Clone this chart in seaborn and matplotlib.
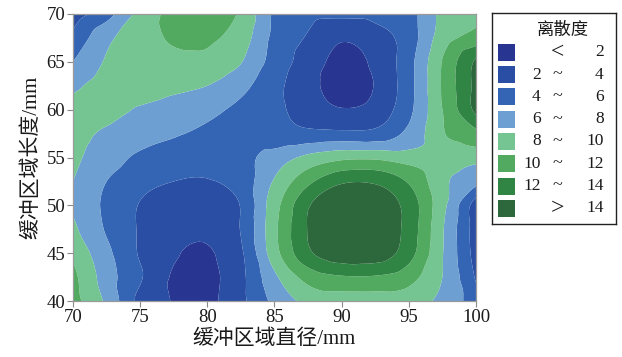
import numpy as np
import matplotlib
matplotlib.use("Agg")
import matplotlib.pyplot as plt
import matplotlib.tri as mtri
from matplotlib.patches import Rectangle
import seaborn as sns

# ---- data ----
x_diameter = [70, 72.5, 75, 77.5, 80, 82.5, 85, 87.5, 90, 92.5, 95, 97.5, 100]
y_length = [40, 42.5, 45, 47.5, 50, 52.5, 55, 57.5, 60, 62.5, 65, 67.5, 70]

row_y40 = [10.8, 7.6, 3.5, 1.9, 1.6, 3.5, 6.5, 8.6, 8.8, 8.8, 8.8, 7.5, 4.8]
row_y42_5 = [10.5, 7.0, 4.2, 1.8, 1.5, 3.5, 7.6, 10.8, 11.8, 11.8, 10.8, 8.0, 3.8]
row_y45 = [9.6, 6.5, 3.8, 2.2, 1.8, 3.7, 9.2, 13.6, 15.3, 15.2, 12.8, 8.1, 3.2]
row_y47_5 = [8.4, 5.8, 3.8, 2.6, 2.4, 4.1, 9.5, 14.1, 16.0, 15.8, 13.2, 8.2, 3.0]
row_y50 = [7.8, 5.6, 3.9, 3.0, 2.8, 4.1, 9.2, 13.8, 15.5, 15.5, 13.2, 8.6, 3.0]
row_y52_5 = [8.0, 6.0, 4.6, 4.0, 3.9, 4.8, 8.2, 11.5, 13.7, 13.7, 11.8, 8.5, 6.5]
row_y55 = [8.4, 7.0, 5.6, 5.0, 4.6, 5.2, 7.0, 8.5, 9.5, 9.6, 9.0, 8.8, 8.7]
row_y57_5 = [8.6, 7.7, 7.0, 6.2, 5.6, 4.8, 4.2, 4.5, 4.5, 4.6, 6.5, 9.8, 11.5]
row_y60 = [8.4, 8.6, 7.8, 6.8, 6.5, 5.5, 4.5, 3.0, 2.1, 2.7, 5.5, 10.0, 14.5]
row_y62_5 = [7.7, 8.7, 9.1, 8.7, 8.0, 6.6, 4.6, 2.6, 1.3, 2.1, 5.3, 10.2, 14.6]
row_y65 = [6.0, 8.2, 9.3, 9.6, 9.5, 8.1, 5.2, 3.1, 1.4, 2.4, 5.3, 10.1, 14.3]
row_y67_5 = [4.5, 7.5, 9.2, 10.2, 10.3, 9.0, 5.5, 3.8, 2.2, 3.1, 5.0, 9.0, 10.8]
row_y70 = [3.0, 5.2, 8.6, 10.6, 11.2, 9.7, 5.7, 4.6, 4.5, 4.6, 5.3, 8.5, 9.4]

level_bounds = [0, 2, 4, 6, 8, 10, 12, 14, 20]
legend_low = ["", "2", "4", "6", "8", "10", "12", ""]
legend_sym = ["<", "~", "~", "~", "~", "~", "~", ">"]
legend_high = ["2", "4", "6", "8", "10", "12", "14", "14"]
legend_title = "离散度"
band_colors = ["#283591", "#2a4ea3", "#3465b4", "#6d9fd2",
               "#74c592", "#52aa60", "#308545", "#2c683b"]

x_ticks = [70, 75, 80, 85, 90, 95, 100]
y_ticks = [40, 45, 50, 55, 60, 65, 70]
x_label = "缓冲区域直径/mm"
y_label = "缓冲区域长度/mm"

# ---- style ----
sns.set_theme(style="white")
plt.rcParams["font.family"] = ["Liberation Serif", "Noto Sans CJK SC", "DejaVu Sans"]

W, H = 622, 357
fig = plt.figure(figsize=(W / 100, H / 100), dpi=100)
fig.patch.set_facecolor("white")

def fx(px):
    return px / W

def fy(py):
    return 1 - py / H

L, R, T, B = 73, 476, 14, 301
ax = fig.add_axes([fx(L), fy(B), fx(R) - fx(L), fy(T) - fy(B)])

Z = np.array([row_y40, row_y42_5, row_y45, row_y47_5, row_y50, row_y52_5,
              row_y55, row_y57_5, row_y60, row_y62_5, row_y65, row_y67_5, row_y70])
GX, GY = np.meshgrid(x_diameter, y_length)
tri = mtri.Triangulation(GX.ravel(), GY.ravel())
interp = mtri.CubicTriInterpolator(tri, Z.ravel(), kind="geom")
refiner = mtri.UniformTriRefiner(tri)
tri_f, z_f = refiner.refine_field(Z.ravel(), triinterpolator=interp, subdiv=3)
ax.tricontourf(tri_f, z_f, levels=level_bounds, colors=band_colors, antialiased=True)

ax.set_xlim(70, 100)
ax.set_ylim(40, 70)
ax.set_xticks(x_ticks)
ax.set_yticks(y_ticks)
ax.tick_params(axis="both", which="both", direction="out", length=4, width=0.8,
               color="#8a8a8a", labelsize=13.5, pad=1.5, bottom=True, left=True,
               labelcolor="#1a1a1a")
for sp in ax.spines.values():
    sp.set_color("#9a9a9a")
    sp.set_linewidth(0.9)

ax.set_xlabel(x_label, fontsize=15, labelpad=3, color="#1a1a1a")
ax.set_ylabel(y_label, fontsize=15, labelpad=4, color="#1a1a1a")

# ---- legend drawn in pixel units ----
LL, LR, LT, LB = 491.7, 616, 13.3, 224
lax = fig.add_axes([fx(LL), fy(LB), fx(LR) - fx(LL), fy(LT) - fy(LB)])
lax.set_xlim(LL, LR)
lax.set_ylim(LB, LT)
lax.set_xticks([])
lax.set_yticks([])
for sp in lax.spines.values():
    sp.set_color("#222222")
    sp.set_linewidth(1.0)
    sp.set_visible(True)

lax.text(563, 31, legend_title, ha="center", va="center", fontsize=12.5, color="#1a1a1a")
row_y0, row_dy = 52.3, 22.3
for i, c in enumerate(band_colors):
    cy = row_y0 + i * row_dy
    lax.add_patch(Rectangle((498, cy - 8.5), 17, 17, facecolor=c, edgecolor="none"))
    if legend_low[i]:
        lax.text(540.7, cy, legend_low[i], ha="right", va="center", fontsize=12.5,
                 color="#1a1a1a")
    sym_size = 17 if legend_sym[i] in "<>" else 13
    lax.text(557, cy, legend_sym[i], ha="center", va="center", fontsize=sym_size,
             color="#1a1a1a")
    lax.text(603.5, cy, legend_high[i], ha="right", va="center", fontsize=12.5,
             color="#1a1a1a")

fig.savefig("out.png", dpi=100)
